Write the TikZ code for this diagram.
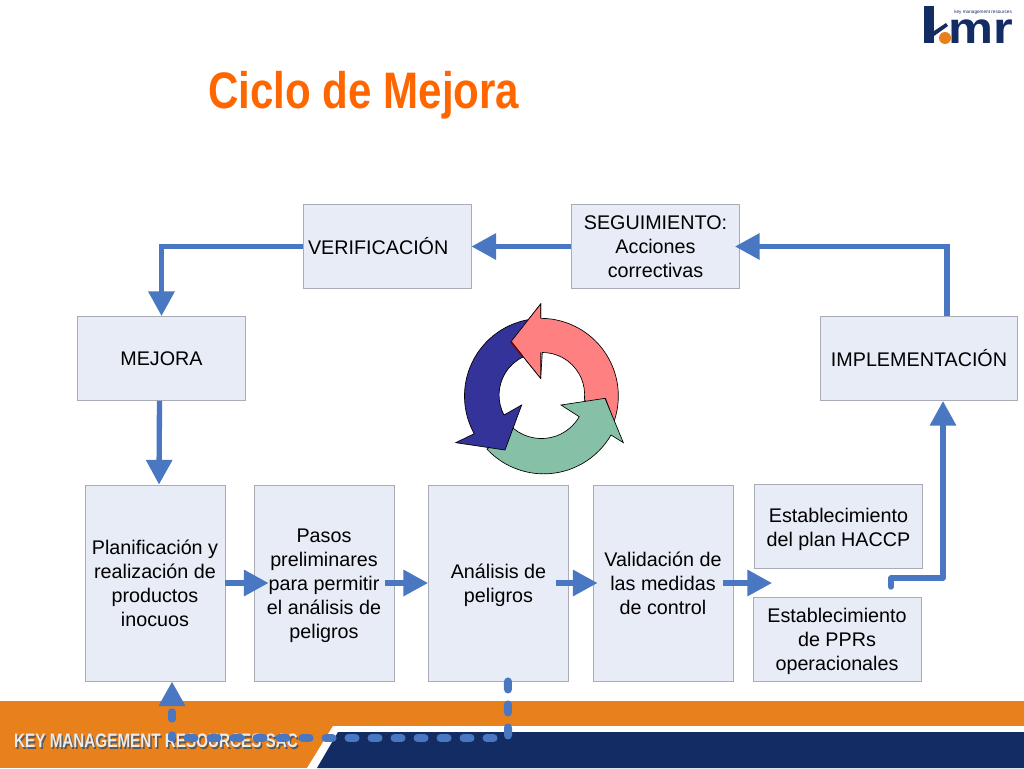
\documentclass[tikz,border=0pt]{standalone}
\usepackage{fontspec}
\setmainfont{Liberation Sans}
\usepackage{xcolor}
\usepackage{tikz}
\usetikzlibrary{arrows.meta}
\usetikzlibrary{shapes}

\definecolor{fondocaja}{HTML}{E7ECF6}
\definecolor{bordecaja}{HTML}{A9ACB4}
\definecolor{flechaazul}{HTML}{4A77C2}
\definecolor{naranja}{HTML}{E8801C}
\definecolor{marino}{HTML}{132C63}
\definecolor{titulo}{HTML}{FF6600}
\definecolor{rojociclo}{HTML}{FF8080}
\definecolor{verdeciclo}{HTML}{86C0A6}
\definecolor{azulciclo}{HTML}{333399}

\newcommand{\bajar}[1]{\rule{0pt}{#1}}

\tikzset{
    caja/.style = {draw = bordecaja, line width = 0.7pt, fill = fondocaja, inner sep = 0pt, align = center,
        font = \fontsize{14.8}{18}\selectfont, minimum width = 126pt, minimum height = 63pt},
    cajaalta/.style = {caja, minimum width = 105pt, minimum height = 147pt},
    flecha/.style = {draw = flechaazul, line width = 4pt, -{Triangle[length = 18.5pt, width = 19pt]}},
    punteada/.style = {draw = flechaazul, line width = 6pt, line cap = round},
    ciclo/.style = {draw = black, line width = 0.5pt, line join = miter}
}

\begin{document}
\begin{tikzpicture}[x = 0.75pt, y = -0.75pt]
    \useasboundingbox (0, 0) rectangle (1024, 768);

    % franja inferior
    \fill[naranja] (0, 701) rectangle (1024, 768);
    \fill[white] (333, 726) -- (1024, 726) -- (1024, 768) -- (307, 768) -- cycle;
    \fill[marino] (338, 732) -- (1024, 732) -- (1024, 768) -- (317, 768) -- cycle;
    \node[anchor = west, text = black!65, font = \fontsize{14.6}{16}\selectfont\bfseries, xscale = 0.783, inner sep = 0pt]
        (sombra) at (15.5, 742.5) {KEY MANAGEMENT RESOURCES SAC};
    \node[anchor = west, text = white!92!black, font = \fontsize{14.6}{16}\selectfont\bfseries, xscale = 0.783, inner sep = 0pt]
        (empresa) at (14, 741) {KEY MANAGEMENT RESOURCES SAC};

    % logo
    \fill[marino] (924, 6) rectangle (934, 43);
    \fill[marino] (934, 31) -- (946, 23) -- (948, 26) -- (934, 36) -- cycle;
    \fill[naranja] (945, 38) circle (6);
    \node[anchor = base west, text = marino, font = \fontsize{33}{33}\selectfont\bfseries, xscale = 1.15, inner sep = 0pt]
        (logomr) at (948, 43) {mr};
    \node[anchor = west, text = marino, font = \fontsize{3.5}{4}\selectfont, inner sep = 0pt]
        (logotexto) at (954, 12) {key management resources};

    % titulo
    \node[anchor = base west, text = titulo, font = \fontsize{38.5}{40}\selectfont\bfseries, xscale = 0.82, inner sep = 0pt]
        (tit) at (208, 108) {Ciclo de Mejora};

    % cajas
    \node[caja, text width = 118.5pt, align = left] (verif) at (387, 246.5) {VERIFICACIÓN};
    \node[caja] (segui) at (655.5, 246.5) {SEGUIMIENTO:\\Acciones\\correctivas};
    \node[caja] (mejora) at (161.5, 358.5) {MEJORA};
    \node[caja, minimum width = 147.5pt] (impl) at (919, 358.5) {IMPLEMENTACIÓN};
    \node[cajaalta] (planif) at (155, 583) {Planificación y\\realización de\\productos\\inocuos};
    \node[cajaalta] (pasos) at (324, 583) {\bajar{15pt}Pasos\\preliminares\\para permitir\\el análisis de\\peligros};
    \node[cajaalta] (analisis) at (498.5, 583) {\bajar{13.8pt}Análisis de\\peligros};
    \node[cajaalta] (valid) at (663, 583) {Validación de\\las medidas\\de control};
    \node[caja] (plan) at (838.5, 526.5) {\bajar{15pt}Establecimiento\\del plan HACCP};
    \node[caja] (pprs) at (837, 639) {\bajar{13.8pt}Establecimiento\\de PPRs\\operacionales};

    \coordinate (finvalid) at (772, 583);
    \coordinate (codo) at (943, 578);
    \coordinate (esqder) at (508, 738);
    \coordinate (esquina) at (172, 738);

    % conectores
    \draw[flecha] (segui.west) -- (verif.east);
    \draw[flecha] (verif.west) -| (mejora.north);
    \draw[flecha] ([xshift = -1.5pt]mejora.south) -- ([xshift = 3pt]planif.north);
    \draw[flecha] (planif.east) -- ([xshift = 11.25pt]pasos.west);
    \draw[flecha] ([xshift = -6.75pt]pasos.east) -- (analisis.west);
    \draw[flecha] ([xshift = -9.75pt]analisis.east) -- ([xshift = 3.75pt]valid.west);
    \draw[flecha] ([xshift = -7.5pt]valid.east) -- (finvalid);
    \draw[flecha, line cap = round, line join = round] ([xshift = 39.4pt, yshift = -13.5pt]plan.south) |- (codo) -- ([xshift = 18pt]impl.south);
    \draw[flecha] ([xshift = 21pt]impl.north) |- ([xshift = -3.75pt]segui.east);
    \draw[punteada, dash pattern = on 6pt off 11.25pt] ([xshift = 7.1pt]analisis.south) -- (esqder);
    \draw[punteada, dash pattern = on 5.25pt off 12pt, dash phase = 6.4pt] (esqder) -- (esquina);
    \draw[flecha, line width = 5.5pt, line cap = round, dash pattern = on 5.25pt off 12pt, dash phase = 3pt] (esquina) -- ([xshift = 12.75pt]planif.south);

    % flechas del ciclo
    \begin{scope}[shift = {(430, 290)}, x = 0.25pt, y = -0.25pt]
        \filldraw[ciclo, fill = rojociclo] (332, 85) arc (-90:21:233) -- (463, 330) arc (7:-90:127) -- (332, 265)
            -- (243, 155) -- (332, 42) -- cycle;
        \draw[color = red!45!black, line width = 1.2pt] (525, 325) -- (553, 400);
        \filldraw[ciclo, fill = verdeciclo] (393, 345) -- (525, 325) -- (580, 458) -- (543, 435) arc (30:137:233)
            -- (250, 415) arc (130:30:131) -- cycle;
        \filldraw[ciclo, fill = azulciclo] (300, 88) arc (-99:-209:233) -- (77, 458) -- (225, 480) -- (275, 345)
            -- (222, 375) arc (-208:-116:127) -- cycle;
        \fill[rojociclo] (332, 85) -- (332, 42) -- (243, 155) -- (332, 265) -- (332, 187) -- cycle;
        \draw[ciclo] (332, 85) -- (332, 42) -- (243, 155) -- (332, 265) -- (332, 187);
        \draw[color = red!45!black, line width = 1.2pt] (243, 155) -- (277, 198);
    \end{scope}
\end{tikzpicture}
\end{document}
